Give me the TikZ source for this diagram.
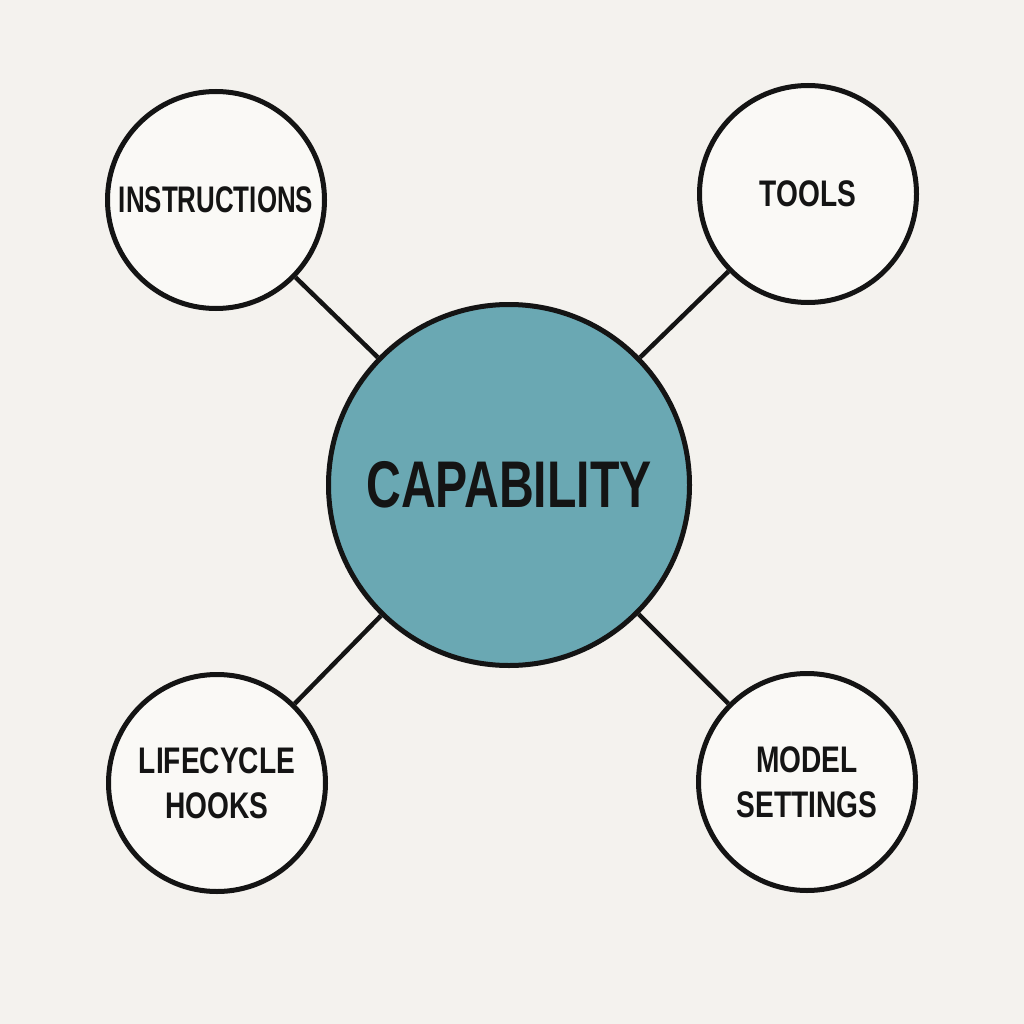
\documentclass[tikz,border=0pt]{standalone}
\usepackage{fontspec}
\newfontfamily\hubfont{Liberation Sans}[FakeStretch=0.73]
\newfontfamily\partfont{Liberation Sans}[FakeStretch=0.76]
\newfontfamily\narrowpartfont{Liberation Sans}[FakeStretch=0.70]
\definecolor{paper}{HTML}{F4F2EE}
\definecolor{bubble}{HTML}{FAF9F6}
\definecolor{core}{HTML}{6AA8B3}
\definecolor{ink}{HTML}{141414}
\tikzset{
  hub/.style={circle, draw=ink, line width=5pt, fill=core, minimum size=361pt,
    inner sep=0pt, font=\hubfont\bfseries\fontsize{66}{70}\selectfont, text=ink},
  part/.style={circle, draw=ink, line width=5pt, fill=bubble, minimum size=217pt,
    inner sep=0pt, align=center, font=\partfont\bfseries\fontsize{37}{45}\selectfont, text=ink},
  longpart/.style={part, font=\narrowpartfont\bfseries\fontsize{37}{45}\selectfont},
  spoke/.style={draw=ink, line width=4.5pt}
}
\begin{document}
\begin{tikzpicture}[x=1pt, y=-1pt]
  \fill[paper] (0,0) rectangle (1024,1024);
  \useasboundingbox (0,0) rectangle (1024,1024);

  \node[hub]      (cap)   at (509,485) {CAPABILITY};
  \node[longpart] (instr) at (216,200) {INSTRUCTIONS};
  \node[part]     (tools) at (808,194) {TOOLS};
  \node[part]     (hooks) at (217,783) {LIFECYCLE\\HOOKS};
  \node[part]     (model) at (807,782) {MODEL\\SETTINGS};

  \draw[spoke] (cap) -- (instr);
  \draw[spoke] (cap) -- (tools);
  \draw[spoke] (cap) -- (hooks);
  \draw[spoke] (cap) -- (model);
\end{tikzpicture}
\end{document}
